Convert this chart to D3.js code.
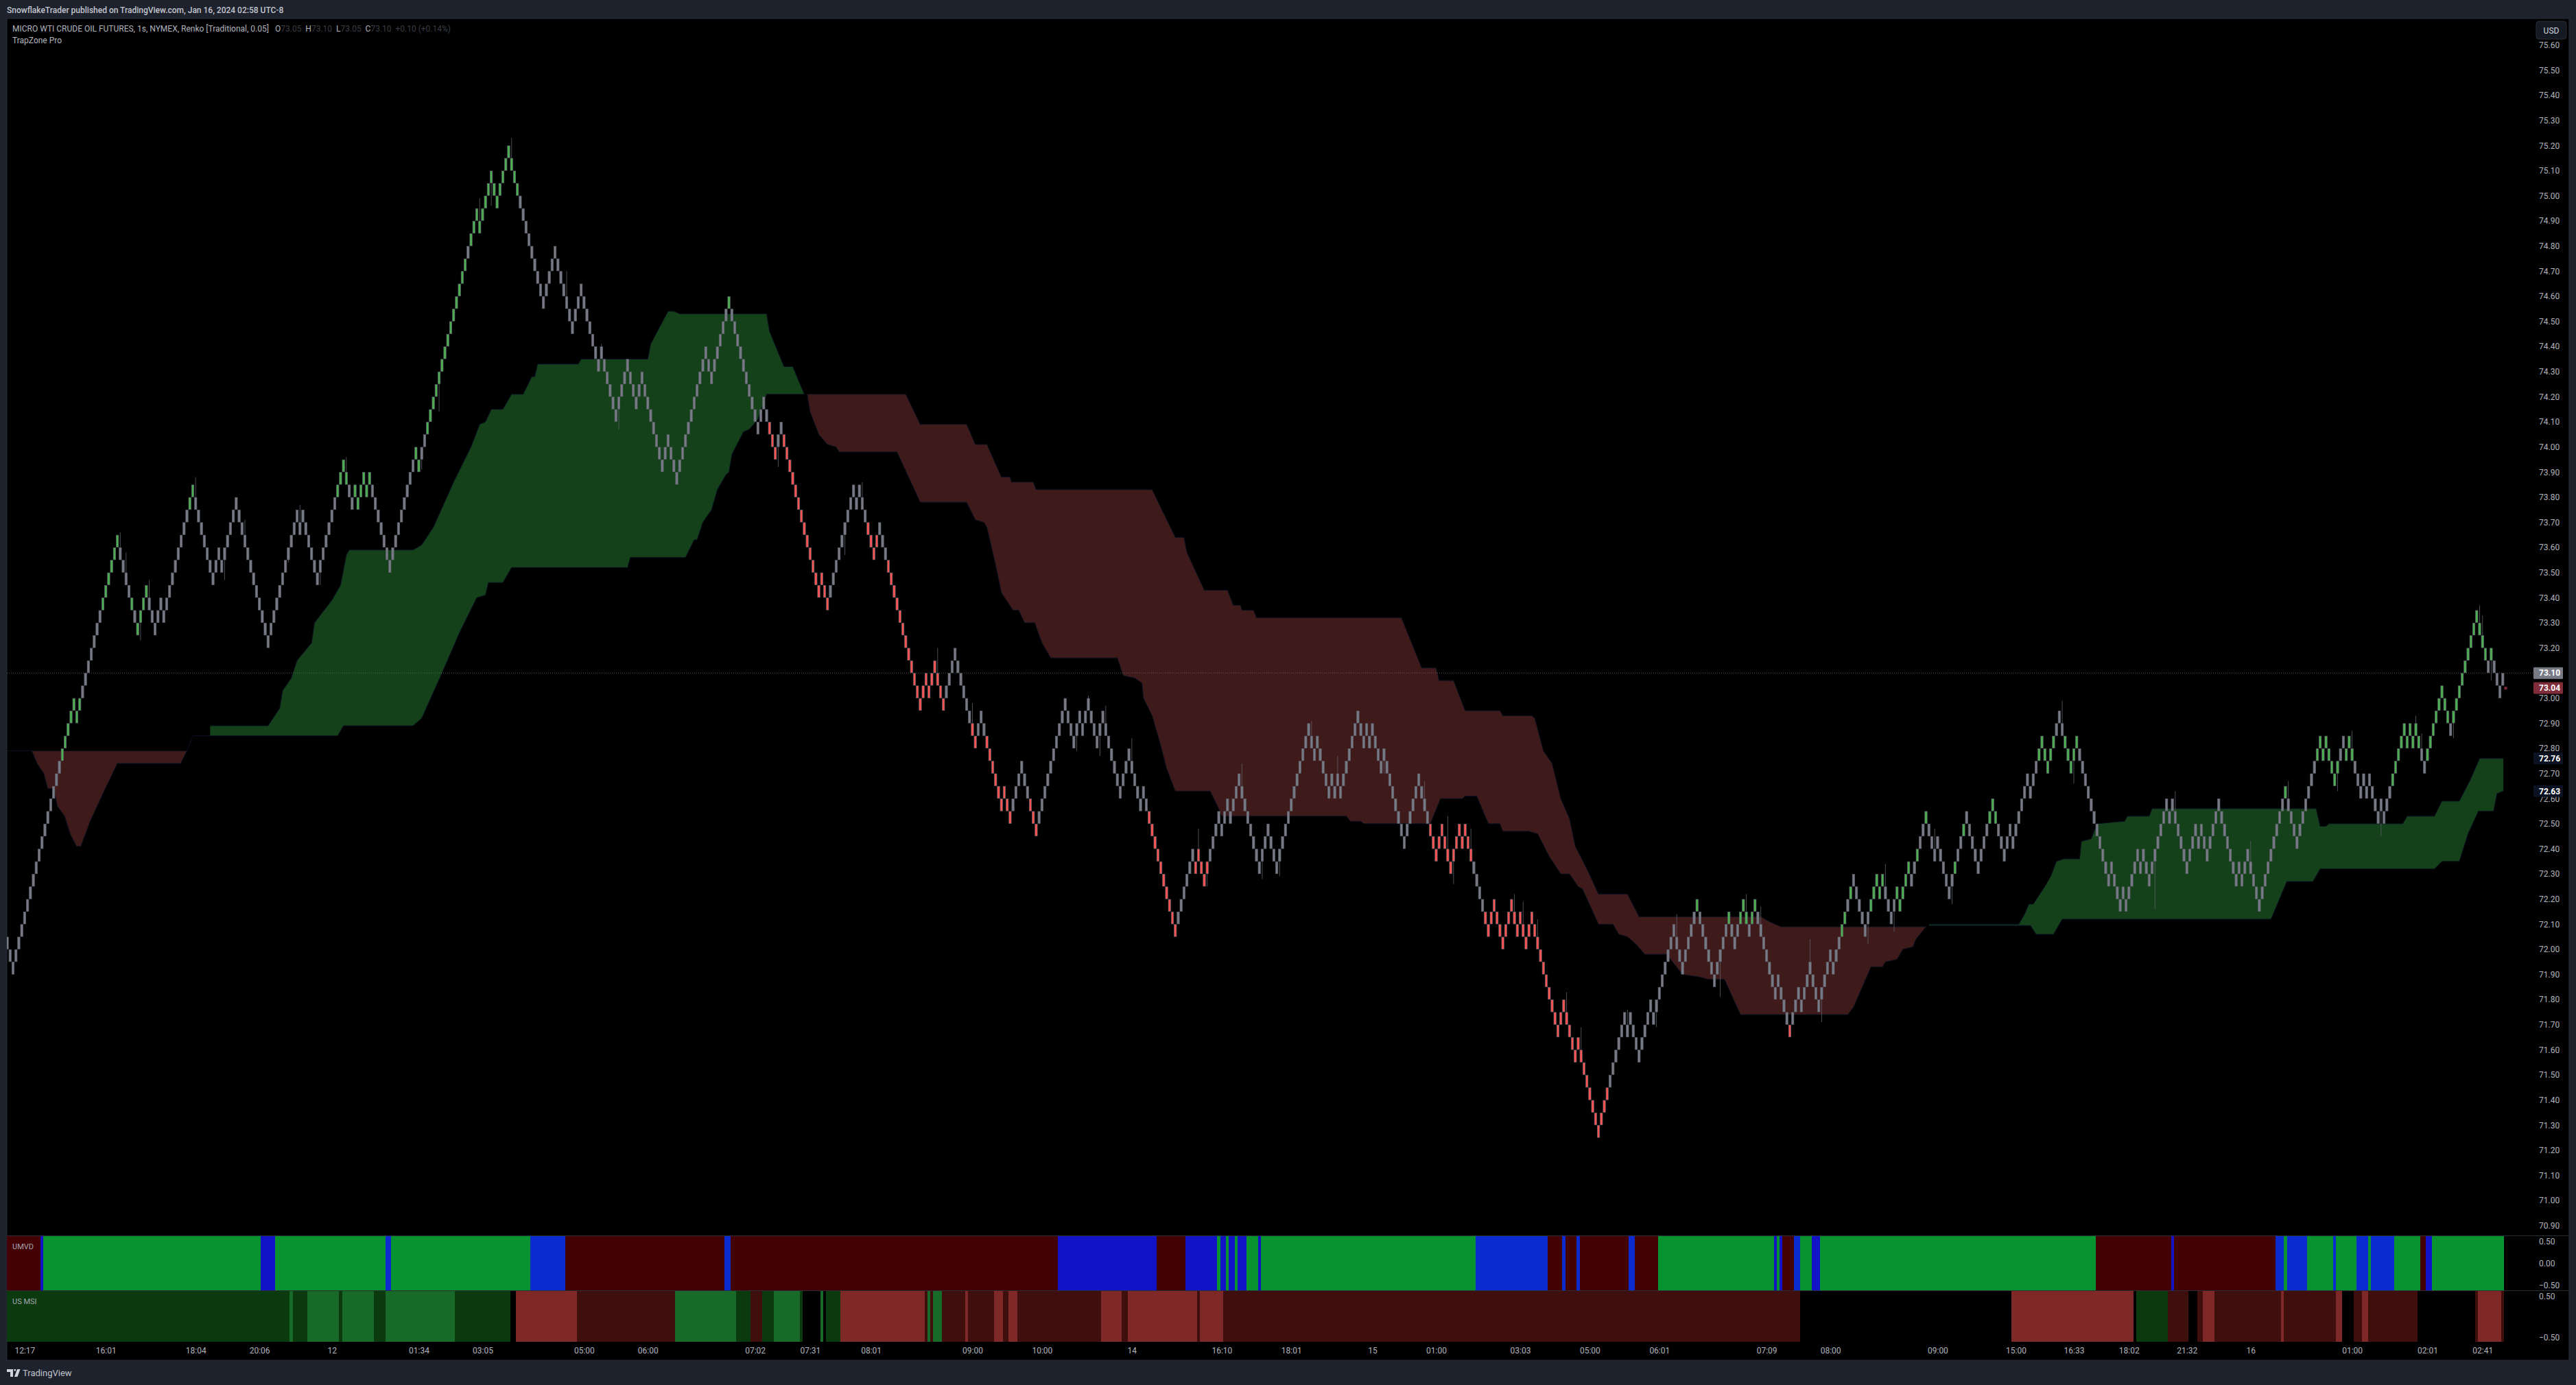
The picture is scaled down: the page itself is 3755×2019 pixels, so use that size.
<!DOCTYPE html>
<html>
<head>
<meta charset="utf-8">
<script src="https://cdn.jsdelivr.net/npm/d3@7"></script>
<style>
  html, body { margin: 0; background: #1e222d; }
  svg { display: block; }
  text { font-family: Roboto, sans-serif; }
</style>
</head>
<body>
<svg id="chart" width="3755" height="2019"></svg>
<script>
// Renko bricks are a fixed 0.05 tall, so the turning points give every brick
const brickSize = 0.05;
const renkoPivots = [
  72.05, 71.90, 73.00, 72.90, 73.65, 73.25, 73.45, 73.25, 73.40, 73.30, 73.85, 73.45, 73.60, 73.50, 73.80,
  73.20, 73.75, 73.65, 73.75, 73.45, 73.95, 73.75, 73.85, 73.75, 73.90, 73.80, 73.90, 73.50, 74.00, 73.90,
  74.95, 74.85, 75.10, 74.95, 75.20, 74.55, 74.80, 74.45, 74.65, 74.30, 74.40, 74.10, 74.35, 74.15, 74.30,
  73.90, 74.05, 73.85, 74.40, 74.25, 74.60, 74.05, 74.20, 73.95, 74.10, 73.40, 73.50, 73.35, 73.85, 73.75,
  73.85, 73.55, 73.70, 72.95, 73.10, 73.00, 73.15, 72.95, 73.20, 72.80, 72.95, 72.55, 72.65, 72.50, 72.75,
  72.45, 73.00, 72.80, 72.95, 72.85, 73.00, 72.80, 72.95, 72.60, 72.80, 72.55, 72.65, 72.05, 72.40, 72.30,
  72.40, 72.25, 72.55, 72.45, 72.60, 72.50, 72.70, 72.30, 72.50, 72.30, 72.90, 72.75, 72.85, 72.60, 72.70,
  72.60, 72.70, 72.60, 72.95, 72.80, 72.90, 72.80, 72.90, 72.70, 72.80, 72.40, 72.70, 72.35, 72.50, 72.30,
  72.50, 72.40, 72.50, 72.05, 72.20, 72.00, 72.20, 72.05, 72.15, 72.00, 72.15, 71.65, 71.80, 71.55, 71.65,
  71.25, 71.75, 71.65, 71.75, 71.55, 71.80, 71.70, 72.10, 71.90, 72.20, 71.85, 72.15, 72.00, 72.20, 72.05,
  72.20, 71.80, 71.90, 71.65, 71.85, 71.75, 71.95, 71.75, 72.00, 71.90, 72.30, 72.05, 72.30, 72.20, 72.30,
  72.10, 72.25, 72.15, 72.35, 72.25, 72.55, 72.35, 72.45, 72.20, 72.55, 72.30, 72.60, 72.35, 72.50, 72.40,
  72.70, 72.60, 72.85, 72.70, 72.95, 72.70, 72.85, 72.25, 72.35, 72.15, 72.25, 72.15, 72.40, 72.30, 72.40,
  72.25, 72.60, 72.50, 72.60, 72.30, 72.50, 72.40, 72.50, 72.35, 72.60, 72.25, 72.35, 72.25, 72.40, 72.15,
  72.65, 72.40, 72.85, 72.75, 72.85, 72.65, 72.85, 72.75, 72.85, 72.60, 72.70, 72.60, 72.70, 72.50, 72.60,
  72.50, 72.90, 72.80, 72.90, 72.80, 72.90, 72.70, 73.05, 72.85, 73.35, 73.10, 73.20, 73.00, 73.10
];

// bar ranges of the coloured bricks, everything else is grey
const greenBars = [
  [19, 25], [33, 38], [43, 43], [45, 48], [63, 64], [114, 117], [120, 125], [141, 142], [145, 158], [160, 176],
  [249, 249], [583, 583], [594, 594], [598, 600], [602, 603], [633, 634], [636, 636], [643, 647], [652, 656],
  [659, 659], [662, 662], [672, 672], [675, 675], [684, 686], [701, 706], [710, 714], [786, 786], [797, 804],
  [807, 809], [823, 832], [835, 842], [844, 855], [857, 857]
];
const redBars = [
  [263, 265], [268, 283], [297, 300], [304, 323], [333, 334], [338, 346], [353, 355], [394, 403], [410, 414],
  [491, 505], [510, 552], [615, 615]
];

const wickBars = [
  39, 41, 46, 49, 65, 75, 82, 97, 101, 108, 117, 143, 149, 163, 167, 174, 193, 205, 211, 266, 289, 295, 321, 333,
  369, 373, 377, 379, 388, 411, 414, 426, 433, 439, 450, 454, 459, 471, 475, 489, 497, 499, 505, 520, 523, 528,
  538, 543, 559, 569, 576, 591, 600, 605, 622, 626, 642, 648, 651, 665, 671, 685, 709, 713, 741, 748, 774, 787,
  790, 804, 809, 819, 831, 833, 844, 853, 854, 857
];
const wickEnds = [
  73.66, 73.58, 73.23, 73.47, 73.88, 73.47, 73.71, 73.54, 73.77, 73.45, 73.96, 73.91, 74.14, 74.99, 74.96, 75.23,
  74.70, 74.41, 74.07, 73.92, 73.57, 73.86, 73.20, 72.98, 72.79, 73.01, 72.77, 72.97, 72.84, 72.48, 72.25, 72.74,
  72.28, 72.29, 72.91, 72.73, 72.77, 72.86, 72.70, 72.67, 72.53, 72.26, 72.48, 72.22, 72.19, 72.12, 71.83, 71.69,
  71.76, 71.69, 72.14, 71.81, 72.22, 72.17, 72.04, 71.71, 72.02, 72.34, 72.07, 72.48, 72.18, 72.56, 72.99, 72.66,
  72.16, 72.63, 72.43, 72.67, 72.40, 72.63, 72.87, 72.45, 72.93, 72.86, 72.84, 73.37, 73.33, 73.07
];

// TrapZone bands as [bar, price] along each edge
const redZone1Upper = [[8.5, 72.79], [62, 72.79]];
const redZone1Lower = [
  [8.5, 72.79], [10.3, 72.74], [12.6, 72.70], [14, 72.64], [16, 72.64], [17.3, 72.57], [19.8, 72.53], [21.7, 72.46],
  [23.9, 72.41], [25.4, 72.41], [28.6, 72.51], [33.4, 72.63], [38, 72.74], [59.8, 72.74], [62, 72.79]
];
const greenZone1Upper = [
  [70, 72.89], [90, 72.89], [94, 72.96], [95, 73.03], [98, 73.08], [100, 73.15], [105, 73.22], [106, 73.30],
  [112, 73.39], [115, 73.45], [117, 73.57], [118, 73.59], [140, 73.59], [143, 73.61], [147, 73.68], [154, 73.86],
  [160, 74.00], [163, 74.09], [165, 74.10], [167, 74.15], [171, 74.15], [174, 74.21], [178, 74.21], [181, 74.28],
  [182, 74.28], [183, 74.33], [197, 74.33], [198, 74.35], [221, 74.35], [222, 74.41], [228, 74.54], [230, 74.54],
  [232, 74.53], [262, 74.53], [263, 74.46], [268, 74.32], [271, 74.32], [275, 74.21]
];
const greenZone1Lower = [
  [70, 72.85], [114, 72.85], [116, 72.89], [140, 72.89], [143, 72.92], [150, 73.10], [156, 73.26], [162, 73.40],
  [165, 73.41], [166, 73.46], [171, 73.46], [174, 73.52], [214, 73.52], [215, 73.56], [234, 73.56], [237, 73.63],
  [238, 73.63], [240, 73.70], [243, 73.75], [245, 73.83], [248, 73.89], [249, 73.90], [250, 73.97], [254, 74.06],
  [256, 74.07], [259, 74.11], [262, 74.21], [275, 74.21]
];
const redZone2Upper = [
  [276, 74.21], [310, 74.21], [315, 74.09], [331, 74.09], [334, 74.01], [338, 74.01], [343, 73.88], [346, 73.88],
  [346.5, 73.86], [354, 73.86], [355, 73.83], [395, 73.83], [403, 73.64], [406, 73.64], [407, 73.58], [413, 73.43],
  [421, 73.43], [423, 73.37], [425.5, 73.37], [426, 73.35], [430, 73.35], [431, 73.32], [481, 73.32], [488, 73.12],
  [493, 73.12], [494, 73.07], [499, 73.07], [503, 72.95], [515, 72.95], [516, 72.93], [526, 72.93], [527, 72.92],
  [530, 72.79], [533, 72.74], [536, 72.60], [539, 72.52], [541, 72.41], [545, 72.32], [549, 72.22], [559, 72.22],
  [563, 72.13], [605, 72.13], [608, 72.11], [612, 72.09], [662, 72.09]
];
const redZone2Lower = [
  [276, 74.21], [277, 74.14], [280, 74.05], [283, 74.01], [286, 74.00], [287, 73.98], [307, 73.98], [315, 73.78],
  [331, 73.78], [334, 73.71], [337, 73.70], [338, 73.68], [341, 73.53], [343, 73.42], [347, 73.35], [349, 73.35],
  [351, 73.30], [354.5, 73.30], [357, 73.22], [360, 73.16], [383, 73.16], [385, 73.09], [389, 73.08], [391.5, 73.06],
  [392, 73.00], [395, 72.93], [398, 72.81], [400, 72.72], [403, 72.63], [415, 72.63], [418, 72.56], [419, 72.53],
  [462, 72.53], [463.4, 72.51], [467, 72.51], [468, 72.50], [491, 72.50], [494.5, 72.60], [502, 72.60], [503, 72.61],
  [507, 72.61], [511, 72.50], [515, 72.50], [516, 72.47], [525, 72.47], [528, 72.46], [532, 72.37], [536, 72.30],
  [539, 72.30], [542, 72.25], [543.5, 72.24], [549, 72.10], [554, 72.10], [556, 72.06], [559, 72.05], [562, 72.02],
  [565, 71.98], [572.5, 71.98], [578, 71.90], [584, 71.89], [587, 71.88], [592.5, 71.88], [596, 71.79], [598, 71.74],
  [635, 71.74], [637, 71.77], [643, 71.93], [647, 71.93], [648, 71.95], [652, 71.96], [654, 72.00], [657.5, 72.01],
  [658.5, 72.04], [662, 72.09]
];
const greenZone2Upper = [
  [663, 72.10], [694, 72.10], [696, 72.14], [697.5, 72.18], [699, 72.18], [703, 72.25], [705, 72.29], [707, 72.35],
  [709.5, 72.36], [715, 72.36], [715.6, 72.43], [719, 72.44], [721, 72.50], [730.5, 72.51], [731.5, 72.53], [739, 72.53],
  [740, 72.56], [796.6, 72.56], [798, 72.49], [800, 72.49], [801, 72.50], [826.5, 72.50], [828, 72.53], [830.6, 72.53],
  [837.4, 72.53], [840, 72.59], [846, 72.59], [850, 72.68], [853, 72.76], [861.2, 72.76]
];
const greenZone2Lower = [
  [663, 72.095], [698, 72.095], [700, 72.06], [706, 72.06], [709, 72.12], [781, 72.12], [786.5, 72.27], [795.5, 72.27],
  [798, 72.32], [837.4, 72.32], [840, 72.35], [846, 72.35], [849, 72.46], [852.6, 72.55], [857.8, 72.55], [859, 72.62],
  [861.2, 72.63]
];
const zoneIdleStart = [[0, 72.79], [8.5, 72.79]];
const zoneIdleMiddle = [[62, 72.79], [64, 72.85], [70, 72.85]];

// stripes: first bar of each run and its tone
const umvdStarts = [
  0, 12, 13, 88, 93, 131, 133, 181, 193, 248, 250, 363, 397, 407, 418, 419, 421, 422, 424, 425, 428, 432, 433, 507,
  532, 537, 538, 542, 543, 560, 562, 570, 610, 611, 612, 613, 617, 619, 623, 626, 721, 747, 748, 783, 786, 787, 794,
  803, 804, 811, 815, 816, 824, 833, 835, 837, 862
];
const umvdTones = [
  "red", "blue", "green", "blue", "green", "azure", "green", "azure", "red", "azure", "red", "blue", "red", "blue",
  "green", "blue", "green", "blue", "green", "blue", "green", "blue", "green", "azure", "red", "azure", "red", "azure",
  "red", "azure", "red", "green", "blue", "green", "blue", "red", "azure", "green", "blue", "green", "red", "blue",
  "red", "azure", "green", "azure", "green", "azure", "green", "azure", "green", "azure", "green", "red", "blue", "green"
];
const msiStarts = [
  0, 98, 99, 104, 115, 116, 127, 131, 155, 174, 176, 197, 231, 252, 257, 261, 265, 274, 275, 281, 282, 283, 288, 317,
  318, 319, 320, 323, 331, 332, 341, 344, 346, 349, 378, 385, 387, 411, 412, 420, 619, 692, 734, 735, 746, 753, 756,
  758, 762, 785, 786, 804, 806, 810, 813, 815, 832, 852, 853, 861, 862
];
const msiTones = [
  "dg", "mg", "dg", "mg", "dg", "mg", "dg", "mg", "dg", "none", "mr", "dr", "mg", "dg", "dr", "dg", "mg", "dg", "none",
  "mg", "none", "dg", "mr", "dr", "mg", "dr", "mg", "dr", "mr", "dr", "mr", "dr", "mr", "dr", "mr", "dr", "mr", "dr",
  "mr", "dr", "none", "mr", "none", "dg", "dr", "none", "dr", "mr", "dr", "mr", "dr", "mr", "none", "dr", "mr", "dr",
  "none", "dr", "mr", "dr"
];

const priceTicks = d3.range(709, 757).map((d) => d / 10);
const umvdTicks = [0.5, 0, -0.5];
const msiTicks = [0.5, -0.5];
const timeTickBars = [
  6, 34, 65, 87, 112, 142, 164, 199, 221, 258, 277, 298, 333, 357, 388, 419, 443, 471, 493, 522, 546, 570, 607, 629,
  666, 693, 713, 732, 752, 774, 809, 835, 854
];
const timeTickLabels = [
  "12:17", "16:01", "18:04", "20:06", "12", "01:34", "03:05", "05:00", "06:00", "07:02", "07:31", "08:01", "09:00",
  "10:00", "14", "16:10", "18:01", "15", "01:00", "03:03", "05:00", "06:01", "07:09", "08:00", "09:00", "15:00",
  "16:33", "18:02", "21:32", "16", "01:00", "02:01", "02:41"
];
const priceTags = [
  { value: 73.1, fill: "#787b86", color: "#ffffff" },
  { value: 73.04, fill: "#7f2d3a", color: "#ffffff" },
  { value: 72.76, fill: "#0b1222", color: "#ffffff" },
  { value: 72.63, fill: "#0b1222", color: "#ffffff" }
];
const lastClose = 73.1;
const countdownPrice = 73.04;

// expand turning points into bricks
const bricks = [{ i: 0, top: renkoPivots[0], bottom: renkoPivots[0] - brickSize }];
d3.pairs(renkoPivots).forEach(([a, b]) => {
  const n = Math.round(Math.abs(b - a) / brickSize) - 1;
  for (let k = 1; k <= n; k++) {
    const top = b < a ? a - brickSize * k : a + brickSize * (k + 1);
    bricks.push({ i: bricks.length, top, bottom: top - brickSize });
  }
});
const inRanges = (ranges, i) => ranges.some(([a, b]) => i >= a && i <= b);
const brickFill = (d) =>
  inRanges(greenBars, d.i) ? "#4caf50" : inRanges(redBars, d.i) ? "#ff5252" : "#787b86";

const paneLeft = 10;
const paneRight = 3745;
const paneTop = 27;
const paneBottom = 1983;
const mainBottom = 1801.5;
const umvdBottom = 1881.5;
const msiBottom = 1956;

const x = d3.scaleLinear().domain([0, 861]).range([10.55, 3648.3]);
const y = d3.scaleLinear().domain([75.6, 70.9]).range([65.7, 1786.7]);
const umvdY = d3.scaleLinear().domain([0.5, -0.5]).range([1810, 1874]);
const msiY = d3.scaleLinear().domain([0.5, -0.5]).range([1890, 1950]);

const svg = d3.select("#chart");
svg.append("rect").attr("width", 3755).attr("height", 2019).attr("fill", "#1e222d");
svg.append("rect")
  .attr("x", paneLeft).attr("y", paneTop)
  .attr("width", paneRight - paneLeft).attr("height", paneBottom - paneTop)
  .attr("fill", "#000000").attr("stroke", "#2a2e39");

svg.append("clipPath").attr("id", "pane-clip").append("rect")
  .attr("x", paneLeft).attr("y", paneTop)
  .attr("width", paneRight - paneLeft).attr("height", paneBottom - paneTop);
const plot = svg.append("g").attr("clip-path", "url(#pane-clip)");

// zones
const edge = d3.line().x((d) => x(d[0])).y((d) => y(d[1]));
const zones = [
  [redZone1Upper, redZone1Lower, "#3f1a1a"],
  [greenZone1Upper, greenZone1Lower, "#14401a"],
  [redZone2Upper, redZone2Lower, "#3f1a1a"],
  [greenZone2Upper, greenZone2Lower, "#14401a"]
];
plot.append("g").selectAll("path").data(zones).join("path")
  .attr("d", (d) => edge(d[0].concat(d[1].slice().reverse())) + "Z")
  .attr("fill", (d) => d[2]);
const zoneLines = zones.flatMap((d) => [d[0], d[1]]).concat([zoneIdleStart, zoneIdleMiddle]);
plot.append("g").selectAll("path").data(zoneLines).join("path")
  .attr("d", edge).attr("fill", "none").attr("stroke", "#0b1222").attr("stroke-width", 1);

// last price line
plot.append("line")
  .attr("x1", paneLeft).attr("x2", 3693).attr("y1", y(lastClose)).attr("y2", y(lastClose))
  .attr("stroke", "#787b86").attr("stroke-width", 1).attr("stroke-dasharray", "1,2").attr("stroke-opacity", 0.75);

// wicks sit behind the bricks
plot.append("g").selectAll("line").data(wickBars).join("line")
  .attr("x1", (d) => x(d)).attr("x2", (d) => x(d))
  .attr("y1", (d) => y((bricks[d].top + bricks[d].bottom) / 2))
  .attr("y2", (d, i) => y(wickEnds[i]))
  .attr("stroke", "#5d606b").attr("stroke-width", 0.8);

plot.append("g").selectAll("rect").data(bricks).join("rect")
  .attr("x", (d) => x(d.i) - 1.7)
  .attr("width", 3.4)
  .attr("y", (d) => y(d.top) + 0.4)
  .attr("height", (d) => y(d.bottom) - y(d.top) - 0.8)
  .attr("fill", brickFill)
  .attr("stroke", "#5d606b")
  .attr("stroke-width", 0.7);

plot.append("rect")
  .attr("x", x(862) - 2).attr("y", y(countdownPrice) - 2)
  .attr("width", 4).attr("height", 4).attr("fill", "#7f2d3a");

// indicator stripes
const stripeColors = {
  red: "#430103", blue: "#1212c6", azure: "#0b2bd0", green: "#07932f",
  dg: "#0b3a0e", mg: "#186a29", dr: "#3f0f0e", mr: "#7f2828", none: "none"
};
function drawStripes(starts, tones, top, bottom) {
  plot.append("g").attr("shape-rendering", "crispEdges").selectAll("rect").data(tones).join("rect")
    .attr("x", (d, i) => x(starts[i] - 0.5))
    .attr("width", (d, i) => x(starts[i + 1] - 0.5) - x(starts[i] - 0.5))
    .attr("y", top)
    .attr("height", bottom - top)
    .attr("fill", (d) => stripeColors[d]);
}
drawStripes(umvdStarts, umvdTones, mainBottom, umvdBottom);
drawStripes(msiStarts, msiTones, umvdBottom, msiBottom);

// pane separators
svg.append("g").selectAll("line").data([mainBottom, umvdBottom]).join("line")
  .attr("x1", paneLeft).attr("x2", paneRight).attr("y1", (d) => d).attr("y2", (d) => d)
  .attr("stroke", "#2a2e39").attr("stroke-width", 1);

// axes
function styleAxis(g) {
  g.select(".domain").remove();
  g.selectAll(".tick line").remove();
  g.selectAll("text").attr("fill", "#b2b5be").style("font-family", "Roboto, sans-serif").style("font-size", "12px");
}
svg.append("g").attr("transform", "translate(3701,0)")
  .call(d3.axisRight(y).tickValues(priceTicks).tickFormat(d3.format(".2f")).tickSize(0).tickPadding(0))
  .call(styleAxis);
svg.append("g").attr("transform", "translate(3701,0)")
  .call(d3.axisRight(umvdY).tickValues(umvdTicks).tickFormat(d3.format(".2f")).tickSize(0).tickPadding(0))
  .call(styleAxis);
svg.append("g").attr("transform", "translate(3701,0)")
  .call(d3.axisRight(msiY).tickValues(msiTicks).tickFormat(d3.format(".2f")).tickSize(0).tickPadding(0))
  .call(styleAxis);
svg.append("g").attr("transform", `translate(0,${msiBottom + 5})`)
  .call(d3.axisBottom(x).tickValues(timeTickBars)
    .tickFormat((d, i) => timeTickLabels[i]).tickSize(0).tickPadding(3))
  .call(styleAxis);

// price tags
const tag = svg.append("g").selectAll("g").data(priceTags).join("g")
  .attr("transform", (d) => `translate(3693,${y(d.value)})`);
tag.append("rect")
  .attr("y", -8.5).attr("width", 43).attr("height", 17).attr("rx", 1)
  .attr("fill", (d) => d.fill);
tag.append("text")
  .attr("x", 8).attr("dy", "0.36em")
  .attr("fill", (d) => d.color)
  .attr("font-size", 12).attr("font-weight", 700)
  .text((d) => d3.format(".2f")(d.value));

// currency button
svg.append("rect")
  .attr("x", 3697).attr("y", 31).attr("width", 44).attr("height", 26).attr("rx", 4)
  .attr("fill", "#151924").attr("stroke", "#2a2e39");
svg.append("text").attr("x", 3719).attr("y", 49).attr("text-anchor", "middle")
  .attr("fill", "#d1d4dc").attr("font-size", 12).text("USD");

// header and legends
svg.append("text").attr("x", 10).attr("y", 19)
  .attr("fill", "#c2c5ce").attr("font-size", 12).attr("font-weight", 500)
  .text("SnowflakeTrader published on TradingView.com, Jan 16, 2024 02:58 UTC-8");
svg.append("text").attr("x", 18).attr("y", 46)
  .attr("fill", "#b2b5be").attr("font-size", 12)
  .text("MICRO WTI CRUDE OIL FUTURES, 1s, NYMEX, Renko [Traditional, 0.05]");
const ohlc = svg.append("text").attr("x", 401).attr("y", 46).attr("font-size", 12);
[["O", "73.05"], ["H", "73.10"], ["L", "73.05"], ["C", "73.10"]].forEach(([k, v]) => {
  ohlc.append("tspan").attr("fill", "#b2b5be").text(k);
  ohlc.append("tspan").attr("fill", "#3a3d45").text(v + "\u00a0\u00a0");
});
ohlc.append("tspan").attr("fill", "#3a3d45").text("+0.10 (+0.14%)");
svg.append("text").attr("x", 18).attr("y", 63)
  .attr("fill", "#b2b5be").attr("font-size", 12).text("TrapZone Pro");
svg.append("text").attr("x", 18).attr("y", 1821)
  .attr("fill", "#a3a6af").attr("font-size", 11).text("UMVD");
svg.append("text").attr("x", 18).attr("y", 1901)
  .attr("fill", "#a3a6af").attr("font-size", 11).text("US MSI");

// footer mark
svg.append("path")
  .attr("d", "M10 1996h9v11h-4v-7h-5z M20.5 1996h2.5v2.5h-2.5z M25 1996h4.5l-4 11h-4.5z")
  .attr("fill", "#d1d4dc");
svg.append("text").attr("x", 33).attr("y", 2006)
  .attr("fill", "#c2c5ce").attr("font-size", 13).text("TradingView");
</script>
</body>
</html>
